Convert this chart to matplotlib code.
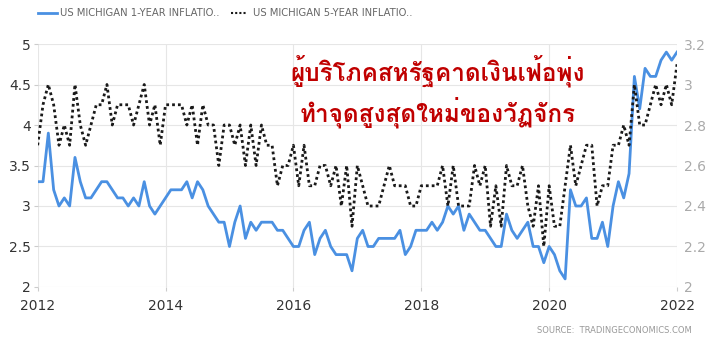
import matplotlib
matplotlib.use('Agg')
import matplotlib.pyplot as plt
import numpy as np
from matplotlib import font_manager
from matplotlib.ft2font import FT2Font

# Dados mensais jan/2012 - jan/2022
one_year = [3.3, 3.3, 3.9, 3.2, 3.0, 3.1, 3.0, 3.6, 3.3, 3.1, 3.1, 3.2,
            3.3, 3.3, 3.2, 3.1, 3.1, 3.0, 3.1, 3.0, 3.3, 3.0, 2.9, 3.0,
            3.1, 3.2, 3.2, 3.2, 3.3, 3.1, 3.3, 3.2, 3.0, 2.9, 2.8, 2.8,
            2.5, 2.8, 3.0, 2.6, 2.8, 2.7, 2.8, 2.8, 2.8, 2.7, 2.7, 2.6,
            2.5, 2.5, 2.7, 2.8, 2.4, 2.6, 2.7, 2.5, 2.4, 2.4, 2.4, 2.2,
            2.6, 2.7, 2.5, 2.5, 2.6, 2.6, 2.6, 2.6, 2.7, 2.4, 2.5, 2.7,
            2.7, 2.7, 2.8, 2.7, 2.8, 3.0, 2.9, 3.0, 2.7, 2.9, 2.8, 2.7,
            2.7, 2.6, 2.5, 2.5, 2.9, 2.7, 2.6, 2.7, 2.8, 2.5, 2.5, 2.3,
            2.5, 2.4, 2.2, 2.1, 3.2, 3.0, 3.0, 3.1, 2.6, 2.6, 2.8, 2.5,
            3.0, 3.3, 3.1, 3.4, 4.6, 4.2, 4.7, 4.6, 4.6, 4.8, 4.9, 4.8,
            4.9]

five_year = [2.7, 2.9, 3.0, 2.9, 2.7, 2.8, 2.7, 3.0, 2.8, 2.7, 2.8, 2.9,
             2.9, 3.0, 2.8, 2.9, 2.9, 2.9, 2.8, 2.9, 3.0, 2.8, 2.9, 2.7,
             2.9, 2.9, 2.9, 2.9, 2.8, 2.9, 2.7, 2.9, 2.8, 2.8, 2.6, 2.8,
             2.8, 2.7, 2.8, 2.6, 2.8, 2.6, 2.8, 2.7, 2.7, 2.5, 2.6, 2.6,
             2.7, 2.5, 2.7, 2.5, 2.5, 2.6, 2.6, 2.5, 2.6, 2.4, 2.6, 2.3,
             2.6, 2.5, 2.4, 2.4, 2.4, 2.5, 2.6, 2.5, 2.5, 2.5, 2.4, 2.4,
             2.5, 2.5, 2.5, 2.5, 2.6, 2.4, 2.6, 2.4, 2.4, 2.4, 2.6, 2.5,
             2.6, 2.3, 2.5, 2.3, 2.6, 2.5, 2.5, 2.6, 2.4, 2.3, 2.5, 2.2,
             2.5, 2.3, 2.3, 2.5, 2.7, 2.5, 2.6, 2.7, 2.7, 2.4, 2.5, 2.5,
             2.7, 2.7, 2.8, 2.7, 3.0, 2.8, 2.8, 2.9, 3.0, 2.9, 3.0, 2.9,
             3.1]

anos = [2012, 2014, 2016, 2018, 2020, 2022]
left_ticks = [2, 2.5, 3, 3.5, 4, 4.5, 5]
right_ticks = [2, 2.2, 2.4, 2.6, 2.8, 3, 3.2]

legenda = ['US MICHIGAN 1-YEAR INFLATIO..', 'US MICHIGAN 5-YEAR INFLATIO..']
titulo = ['ผู้บริโภคสหรัฐคาดเงินเฟ้อพุ่ง', 'ทำจุดสูงสุดใหม่ของวัฏจักร']
fonte = 'SOURCE:  TRADINGECONOMICS.COM'


# Procura uma fonte com glifos tailandeses
def fonte_thai():
    achadas = []
    for path in font_manager.findSystemFonts():
        try:
            if 0x0E1C in FT2Font(path).get_charmap():
                achadas.append(path)
        except Exception:
            pass
    if not achadas:
        return font_manager.FontProperties(family='DejaVu Sans', weight='bold')
    bold = [p for p in achadas if 'bold' in p.lower()]
    escolha = sorted(bold or achadas)[0]
    return font_manager.FontProperties(fname=escolha)


x = 2012 + np.arange(len(one_year)) / 12.0

fig = plt.figure(figsize=(7.19, 3.38), dpi=100)
ax = fig.add_axes([0.0524, 0.1509, 0.8892, 0.7189])
ax2 = ax.twinx()

ax.plot(x, one_year, color='#4a90e2', lw=2, zorder=3)
ax2.plot(x, five_year, color='#1a1a1a', lw=2, ls=(0, (1, 1.1)), zorder=3)

ax.set_xlim(2012, 2022)
ax.set_ylim(2, 5)
ax2.set_ylim(2, 3.2)
ax.set_xticks(anos)
ax.set_xticklabels([str(a) for a in anos], fontsize=10, color='#333333')
ax.set_yticks(left_ticks)
ax.set_yticklabels(['%g' % v for v in left_ticks], fontsize=10, color='#333333')
ax2.set_yticks(right_ticks)
ax2.set_yticklabels(['%g' % v for v in right_ticks], fontsize=10, color='#aaaaaa')

ax.grid(True, color='#e6e6e6', lw=0.8)
ax.set_axisbelow(True)
for a in (ax, ax2):
    for s in a.spines.values():
        s.set_visible(False)
ax.tick_params(axis='y', length=3, color='#cccccc', pad=2)
ax.tick_params(axis='x', length=3, color='#cccccc', pad=6)
ax2.tick_params(axis='y', length=0, pad=5)

# Legenda manual no topo
fig.add_artist(plt.Line2D([0.053, 0.079], [0.962, 0.962], color='#4a90e2', lw=2))
fig.text(0.084, 0.962, legenda[0], fontsize=7.2, color='#666666', va='center')
fig.add_artist(plt.Line2D([0.321, 0.344], [0.962, 0.962], color='#1a1a1a', lw=1.5,
                          ls=(0, (1, 1))))
fig.text(0.352, 0.962, legenda[1], fontsize=7.2, color='#666666', va='center')

fp = fonte_thai()
fig.text(0.609, 0.79, titulo[0], fontproperties=fp, fontsize=17.5, color='#c00000',
         ha='center', va='center', fontweight='bold')
fig.text(0.609, 0.668, titulo[1], fontproperties=fp, fontsize=17.5, color='#c00000',
         ha='center', va='center', fontweight='bold')

fig.text(0.962, 0.008, fonte, fontsize=6, color='#999999', ha='right', va='bottom')

fig.savefig('out.png', dpi=100)
